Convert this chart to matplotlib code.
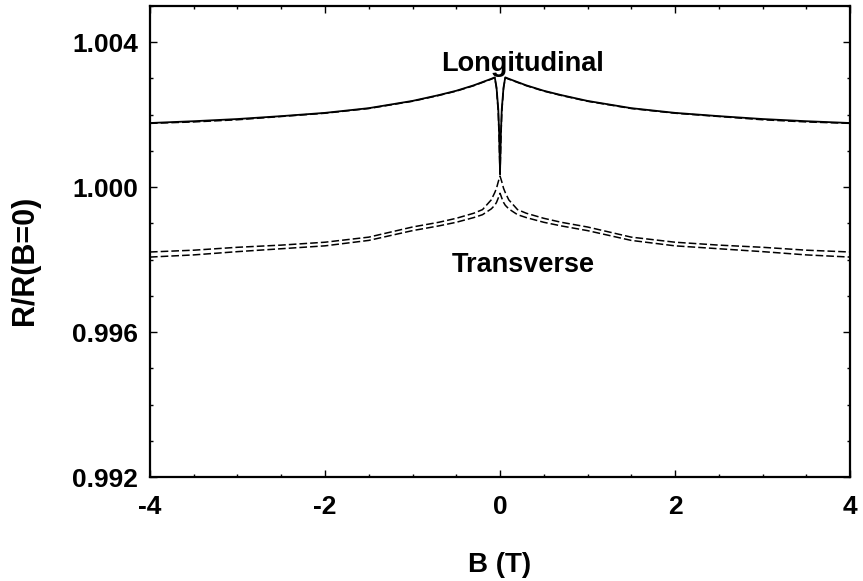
import numpy as np
import matplotlib
matplotlib.use("Agg")
import matplotlib.pyplot as plt
from matplotlib.ticker import MultipleLocator, FormatStrFormatter

plt.rcParams['font.family'] = ['Liberation Sans', 'DejaVu Sans']
plt.rcParams['font.weight'] = 'bold'

# field values (T), left half; right half mirrored below
B_half = [-4.0, -3.5, -3.0, -2.5, -2.0, -1.5, -1.0, -0.7, -0.5, -0.3,
          -0.2, -0.1, -0.06, -0.04, -0.02, -0.01, 0.0]

# Longitudinal, solid sweep
long_solid_half = [1.00177, 1.00182, 1.00188, 1.00196, 1.00205, 1.00218, 1.00238,
                   1.00254, 1.00266, 1.00281, 1.00290, 1.00299, 1.00303,
                   1.00275, 1.00215, 1.00150, 1.00040]
# Longitudinal, dashed sweep (nearly on top of the solid one)
long_dash_half = [1.00176, 1.00180, 1.00186, 1.00195, 1.00204, 1.00217, 1.00237,
                  1.00253, 1.00265, 1.00280, 1.00289, 1.00298, 1.00302,
                  1.00272, 1.00205, 1.00130, 1.00030]

# Transverse, two dashed sweeps
trans_a_half = [0.99821, 0.99826, 0.99834, 0.99840, 0.99848, 0.99862, 0.99890,
                0.99903, 0.99914, 0.99928, 0.99938, 0.99965, 0.99985,
                0.99997, 1.00015, 1.00023, 1.00030]
trans_b_half = [0.99807, 0.99813, 0.99822, 0.99830, 0.99838, 0.99853, 0.99880,
                0.99893, 0.99903, 0.99916, 0.99924, 0.99940, 0.99950,
                0.99958, 0.99970, 0.99977, 0.99983]


def mirror(xs, ys):
    x = np.array(xs)
    y = np.array(ys)
    return np.concatenate([x, -x[-2::-1]]), np.concatenate([y, y[-2::-1]])


fig = plt.figure(figsize=(8.63, 5.81), dpi=100)
ax = fig.add_axes([0.1738, 0.179, 0.8112, 0.8107])

dash = (0, (5, 2))
x, y = mirror(B_half, long_solid_half)
ax.plot(x, y, color='black', lw=1.3)
x, y = mirror(B_half, long_dash_half)
ax.plot(x, y, color='black', lw=1.1, linestyle=dash)
x, y = mirror(B_half, trans_a_half)
ax.plot(x, y, color='black', lw=1.1, linestyle=dash)
x, y = mirror(B_half, trans_b_half)
ax.plot(x, y, color='black', lw=1.1, linestyle=dash)

ax.text(0.26, 1.0032, 'Longitudinal', ha='center', va='baseline',
        fontsize=19.5, fontweight='bold')
ax.text(0.26, 0.99766, 'Transverse', ha='center', va='baseline',
        fontsize=19.5, fontweight='bold')

ax.set_xlim(-4, 4)
ax.set_ylim(0.992, 1.005)
ax.xaxis.set_major_locator(MultipleLocator(2))
ax.xaxis.set_minor_locator(MultipleLocator(0.5))
ax.yaxis.set_major_locator(MultipleLocator(0.004))
ax.yaxis.set_minor_locator(MultipleLocator(0.001))
ax.yaxis.set_major_formatter(FormatStrFormatter('%.3f'))
ax.xaxis.set_major_formatter(FormatStrFormatter('%d'))

ax.tick_params(which='both', direction='in', top=True, right=True, width=1)
ax.tick_params(which='major', length=5)
ax.tick_params(which='minor', length=2.5)
ax.tick_params(axis='x', which='major', pad=13, labelsize=19)
ax.tick_params(axis='y', which='major', pad=8.5, labelsize=19)
for lab in ax.get_xticklabels() + ax.get_yticklabels():
    lab.set_fontweight('bold')
for s in ax.spines.values():
    s.set_linewidth(1.6)

ax.set_xlabel('B (T)', fontsize=20, fontweight='bold')
ax.xaxis.set_label_coords(0.5, -0.16)
ax.set_ylabel('R/R(B=0)', fontsize=22, fontweight='bold')
ax.yaxis.set_label_coords(-0.157, 0.46)

fig.savefig('out.png', dpi=100)
